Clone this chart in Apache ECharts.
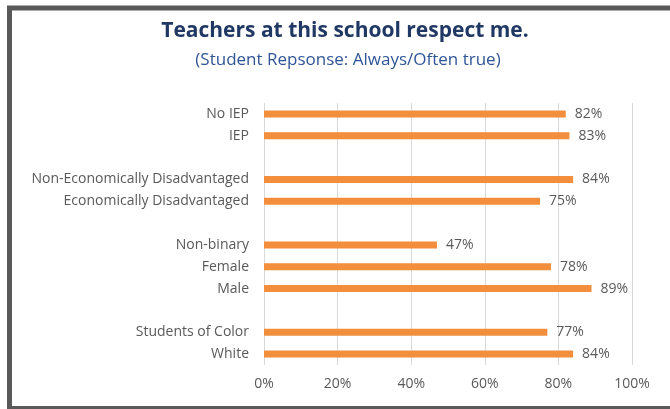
<!DOCTYPE html>
<html>
<head>
<meta charset="utf-8">
<script src="https://cdn.jsdelivr.net/npm/echarts@6/dist/echarts.min.js"></script>
<style>
  html, body { margin: 0; padding: 0; background: #ffffff; }
  #chart { width: 670px; height: 409px; }
</style>
</head>
<body>
<div id="chart"></div>
<script>
// Student groups, top to bottom; empty names leave a gap between groups
const categories = [
  'No IEP', 'IEP', '',
  'Non-Economically Disadvantaged', 'Economically Disadvantaged', '',
  'Non-binary', 'Female', 'Male', '',
  'Students of Color', 'White'
];
// Percent answering "Always/Often true"
const values = [82, 83, '-', 84, 75, '-', 47, 78, 89, '-', 77, 84];
const tickValues = [0, 20, 40, 60, 80, 100];

const labelFont = '"Open Sans", "Noto Sans", sans-serif';
const chart = echarts.init(document.getElementById('chart'), null, { renderer: 'canvas' });

chart.setOption({
  animation: false,
  backgroundColor: '#ffffff',
  title: [
    {
      text: 'Teachers at this school respect me.',
      left: 340, top: 16, textAlign: 'center',
      textStyle: { fontFamily: labelFont, fontSize: 21, fontWeight: 'bold', color: '#203864' }
    },
    {
      text: '(Student Repsonse: Always/Often true)',
      left: 343, top: 47, textAlign: 'center',
      textStyle: { fontFamily: labelFont, fontSize: 17, fontWeight: 'normal', color: '#2F5597' }
    }
  ],
  graphic: [
    {
      type: 'rect', silent: true,
      shape: { x: 9.5, y: 8, width: 700, height: 400.5 },
      style: { fill: 'none', stroke: '#595959', lineWidth: 5 }
    }
  ],
  grid: { left: 264, right: 38, top: 103, bottom: 44 },
  xAxis: {
    type: 'value', min: 0, max: 100, interval: 20,
    axisLine: { show: false }, axisTick: { show: false },
    splitLine: { show: true, lineStyle: { color: '#d9d9d9', width: 1 } },
    axisLabel: {
      margin: 12, color: '#595959', fontFamily: labelFont, fontSize: 14,
      formatter: v => tickValues.includes(v) ? v + '%' : ''
    }
  },
  yAxis: {
    type: 'category', data: categories, inverse: true,
    axisLine: { show: false }, axisTick: { show: false },
    axisLabel: { margin: 15, color: '#595959', fontFamily: labelFont, fontSize: 14 }
  },
  series: [{
    type: 'bar', data: values, barWidth: 7,
    itemStyle: { color: '#F28E3C' },
    label: {
      show: true, position: 'right', distance: 9,
      color: '#595959', fontFamily: labelFont, fontSize: 14,
      formatter: p => p.value + '%'
    }
  }]
});
</script>
</body>
</html>
